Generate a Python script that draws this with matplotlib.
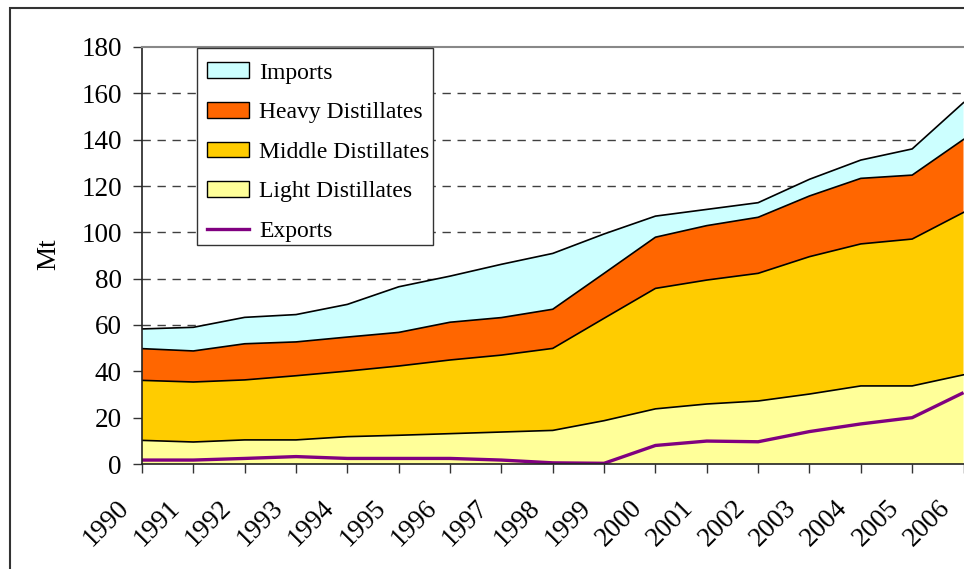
import matplotlib
matplotlib.use("Agg")
import matplotlib.pyplot as plt
import numpy as np
from matplotlib.patches import Patch, Rectangle
from matplotlib.lines import Line2D
from matplotlib.transforms import ScaledTranslation

years = list(range(1990, 2007))
light = [10.2, 9.5, 10.4, 10.4, 11.8, 12.4, 13.1, 13.8, 14.5, 18.7, 23.8, 25.9, 27.2, 30.2, 33.7, 33.7, 38.5]
middle = [25.9, 25.9, 25.9, 27.7, 28.3, 29.9, 31.8, 33.2, 35.4, 44.2, 52.0, 53.5, 55.1, 59.3, 61.3, 63.4, 70.1]
heavy = [13.7, 13.4, 15.6, 14.6, 14.7, 14.5, 16.3, 16.2, 16.9, 19.4, 22.1, 23.5, 24.2, 26.2, 28.3, 27.6, 31.5]
imports = [8.5, 10.2, 11.4, 11.8, 14.1, 19.7, 19.9, 23.0, 24.1, 17.0, 9.1, 7.0, 6.3, 7.2, 7.9, 11.3, 15.9]
exports = [1.7, 1.7, 2.4, 3.2, 2.4, 2.4, 2.4, 1.7, 0.5, 0.3, 8.0, 9.9, 9.6, 14.0, 17.3, 20.0, 30.8]

labels = ["Imports", "Heavy Distillates", "Middle Distillates", "Light Distillates", "Exports"]
colors = {"Imports": "#CCFFFF", "Heavy Distillates": "#FF6600",
          "Middle Distillates": "#FFCC00", "Light Distillates": "#FFFF99"}
export_color = "#800080"

plt.rcParams['font.family'] = ['Liberation Serif', 'DejaVu Serif']

W, H = 964, 569
dpi = 100
fig = plt.figure(figsize=(W / dpi, H / dpi), dpi=dpi)

# outer chart frame
fig.patches.append(Rectangle((10 / W, -0.05), 1.1, 1 - 8 / H + 0.05, transform=fig.transFigure,
                             fill=False, edgecolor="#333333", linewidth=1.5, zorder=0))

left, right, top, bottom = 142, 963.5, 47, 464
ax = fig.add_axes([left / W, (H - bottom) / H, (right - left) / W, (bottom - top) / H])
ax.set_facecolor("none")

x = np.array(years)
series = [np.array(light), np.array(middle), np.array(heavy), np.array(imports)]
names = ["Light Distillates", "Middle Distillates", "Heavy Distillates", "Imports"]
base = np.zeros(len(years))
for s, n in zip(series, names):
    ax.fill_between(x, base, base + s, facecolor=colors[n], edgecolor="none", zorder=2)
    base = base + s
base = np.zeros(len(years))
for s, n in zip(series, names):
    base = base + s
    ax.plot(x, base, color="black", linewidth=1.2, zorder=3)

ax.plot(x, exports, color=export_color, linewidth=2.4, zorder=4, solid_capstyle="butt")

ax.set_xlim(1990, 2006)
ax.set_ylim(0, 180)
ax.set_yticks(range(0, 181, 20))
ax.set_xticks(years)
ax.set_xticklabels([])

xlab_off = ScaledTranslation(-17 / dpi, -40 / dpi, fig.dpi_scale_trans)
for yr in years:
    ax.text(yr, 0, str(yr), transform=ax.get_xaxis_transform() + xlab_off,
            rotation=45, ha="right", va="center", rotation_mode="anchor",
            fontsize=19.5, clip_on=False)

for yv in range(20, 180, 20):
    ax.axhline(yv, color="#404040", linewidth=1.0, linestyle=(0, (6.0, 4.8)), zorder=1)

ax.tick_params(axis="both", length=6.5, width=1.0, color="#333333", direction="out")
ax.tick_params(axis="y", labelsize=19.5, pad=8)

ax.spines["right"].set_visible(False)
ax.spines["top"].set_color("#888888")
ax.spines["top"].set_linewidth(1.5)
ax.spines["left"].set_color("#222222")
ax.spines["bottom"].set_color("#222222")
ax.spines["left"].set_linewidth(1.2)
ax.spines["bottom"].set_linewidth(1.2)
for sp in ax.spines.values():
    sp.set_zorder(5)

fig.text(48.5 / W, 1 - 254.5 / H, "Mt", rotation=90, ha="center", va="center", fontsize=19.5)

# legend frame
fig.patches.append(Rectangle((197 / W, 1 - 245 / H), (433 - 197) / W, (245 - 48) / H,
                             transform=fig.transFigure, facecolor="white",
                             edgecolor="#333333", linewidth=1.0, zorder=6))

handles = [Patch(facecolor=colors["Imports"], edgecolor="black", linewidth=1.0),
           Patch(facecolor=colors["Heavy Distillates"], edgecolor="black", linewidth=1.0),
           Patch(facecolor=colors["Middle Distillates"], edgecolor="black", linewidth=1.0),
           Patch(facecolor=colors["Light Distillates"], edgecolor="black", linewidth=1.0),
           Line2D([0], [0], color=export_color, linewidth=2.4)]
leg = fig.legend(handles, labels, loc="upper left", bbox_to_anchor=(207 / W, 1 - 62.5 / H),
                 bbox_transform=fig.transFigure, borderaxespad=0, borderpad=0, fontsize=17,
                 frameon=False, handlelength=1.78, handleheight=0.64, handletextpad=0.42,
                 labelspacing=0.78)
leg.set_zorder(7)

fig.savefig("out.png", dpi=dpi)
